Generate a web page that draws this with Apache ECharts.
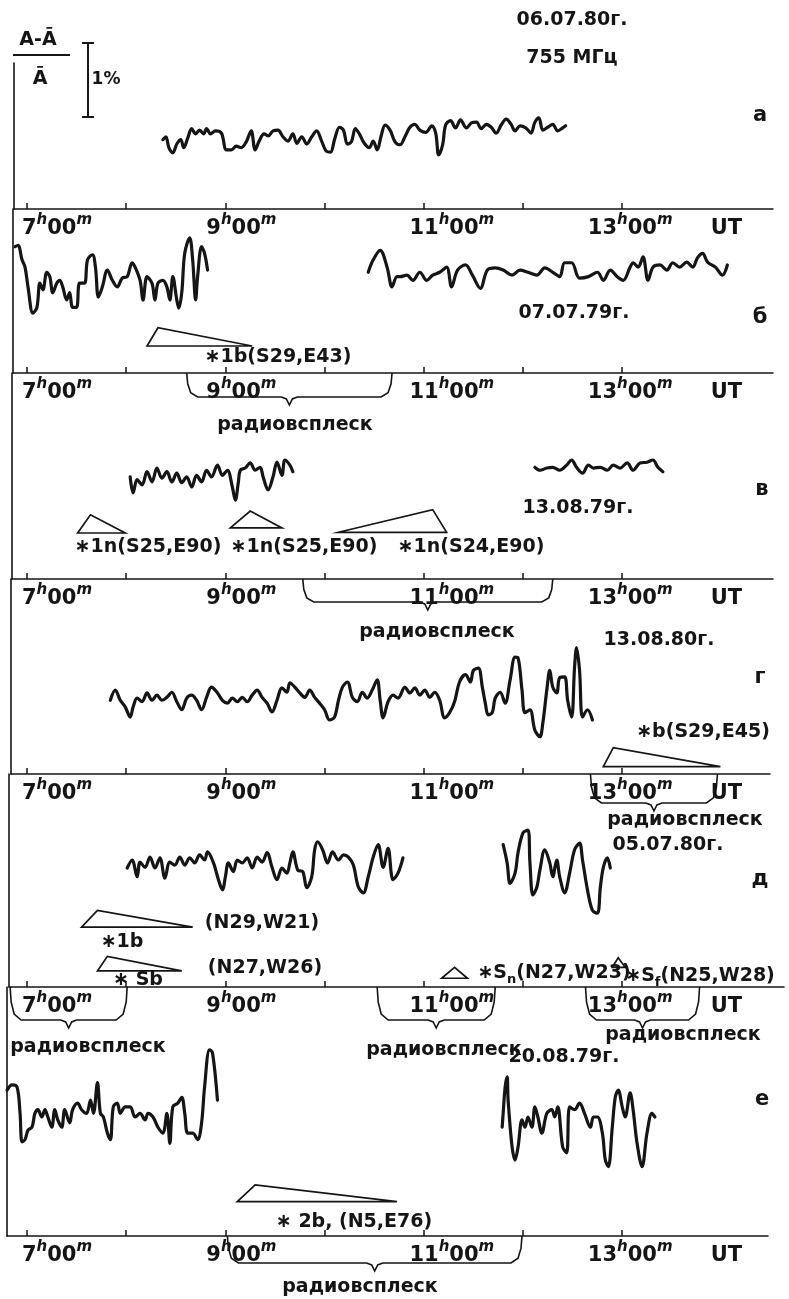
<!DOCTYPE html>
<html><head><meta charset="utf-8">
<script src="https://cdn.jsdelivr.net/npm/echarts@6/dist/echarts.min.js"></script>
<style>html,body{margin:0;padding:0;background:#fff}#c{width:789px;height:1299px}</style>
</head><body><div id="c"></div>
<script>
// ---------------- DATA (time in hours UT, value in % of (A-Ā)/Ā) ----------------
const hourTicks = [7, 8, 9, 10, 11, 12, 13];
const hourLabels = [7, 9, 11, 13, 14];   // 14 is shown as "UT"

const curveA = [[8.37,0.95],[8.40,0.99],[8.43,0.84],[8.47,0.77],[8.51,0.89],[8.55,0.95],[8.58,0.84],[8.62,0.97],[8.66,1.10],[8.70,1.03],[8.74,1.08],[8.78,1.03],[8.81,1.10],[8.85,1.03],[8.90,1.07],[8.96,1.04],[9.01,0.81],[9.06,0.81],[9.11,0.86],[9.16,0.84],[9.21,0.92],[9.26,1.07],[9.30,0.81],[9.34,0.93],[9.39,1.03],[9.43,1.00],[9.48,1.07],[9.53,1.08],[9.58,0.99],[9.63,0.93],[9.68,1.03],[9.72,0.90],[9.77,0.99],[9.82,0.89],[9.87,0.99],[9.92,1.07],[9.97,0.93],[10.02,0.79],[10.06,0.78],[10.10,0.95],[10.15,1.12],[10.19,1.08],[10.23,0.89],[10.27,0.92],[10.31,1.10],[10.35,1.03],[10.40,0.90],[10.45,0.84],[10.49,0.93],[10.53,0.81],[10.57,1.00],[10.61,1.15],[10.66,1.08],[10.71,0.92],[10.76,0.88],[10.81,0.99],[10.86,1.12],[10.91,1.16],[10.96,1.08],[11.02,1.05],[11.08,1.14],[11.12,1.04],[11.15,0.74],[11.19,0.88],[11.22,1.15],[11.27,1.21],[11.32,1.11],[11.37,1.22],[11.43,1.11],[11.48,1.18],[11.53,1.19],[11.58,1.10],[11.63,1.16],[11.68,1.12],[11.73,1.04],[11.78,1.15],[11.83,1.23],[11.88,1.16],[11.92,1.07],[11.97,1.14],[12.03,1.11],[12.08,1.04],[12.12,1.19],[12.16,1.25],[12.20,1.08],[12.25,1.12],[12.30,1.16],[12.35,1.07],[12.40,1.11],[12.43,1.14]];

const curveB1 = [[6.88,1.73],[6.91,1.75],[6.95,1.55],[6.98,1.45],[7.01,1.18],[7.06,0.82],[7.10,0.90],[7.13,1.23],[7.16,1.14],[7.20,1.38],[7.23,1.32],[7.26,1.10],[7.30,1.23],[7.33,1.27],[7.36,1.18],[7.40,1.00],[7.43,1.10],[7.46,0.90],[7.50,0.90],[7.53,1.23],[7.58,1.23],[7.61,1.55],[7.66,1.62],[7.69,1.45],[7.72,1.04],[7.76,1.18],[7.81,1.41],[7.86,1.27],[7.91,1.18],[7.96,1.30],[8.01,1.32],[8.06,1.51],[8.09,1.45],[8.14,1.27],[8.17,1.00],[8.21,1.32],[8.26,1.23],[8.29,1.00],[8.32,1.23],[8.37,1.27],[8.41,1.18],[8.44,1.00],[8.47,1.32],[8.51,1.00],[8.53,0.89],[8.56,1.10],[8.59,1.64],[8.64,1.85],[8.67,1.55],[8.70,1.00],[8.72,1.32],[8.76,1.73],[8.79,1.64],[8.82,1.41]];
const curveB2 = [[10.44,1.38],[10.49,1.55],[10.56,1.68],[10.63,1.45],[10.68,1.18],[10.73,1.32],[10.76,1.32],[10.83,1.34],[10.89,1.27],[10.96,1.38],[11.03,1.27],[11.09,1.34],[11.16,1.38],[11.23,1.45],[11.28,1.18],[11.34,1.41],[11.42,1.48],[11.49,1.34],[11.57,1.16],[11.64,1.41],[11.72,1.44],[11.80,1.41],[11.89,1.34],[11.97,1.41],[12.05,1.38],[12.14,1.34],[12.22,1.44],[12.30,1.38],[12.37,1.32],[12.42,1.51],[12.49,1.51],[12.57,1.30],[12.66,1.32],[12.75,1.38],[12.81,1.27],[12.88,1.41],[12.95,1.32],[13.01,1.27],[13.08,1.45],[13.11,1.51],[13.16,1.45],[13.21,1.59],[13.26,1.27],[13.31,1.45],[13.38,1.48],[13.45,1.41],[13.51,1.51],[13.58,1.45],[13.65,1.52],[13.71,1.45],[13.76,1.58],[13.81,1.64],[13.86,1.52],[13.94,1.45],[14.01,1.34],[14.06,1.48]];

const curveV1 = [[8.04,1.40],[8.07,1.18],[8.11,1.36],[8.16,1.29],[8.21,1.47],[8.26,1.33],[8.31,1.52],[8.36,1.38],[8.41,1.47],[8.46,1.33],[8.51,1.45],[8.56,1.32],[8.61,1.40],[8.66,1.26],[8.71,1.42],[8.76,1.33],[8.81,1.49],[8.86,1.40],[8.92,1.56],[8.97,1.42],[9.02,1.49],[9.07,1.26],[9.10,1.08],[9.13,1.32],[9.15,1.49],[9.20,1.52],[9.25,1.59],[9.30,1.49],[9.35,1.53],[9.38,1.40],[9.43,1.22],[9.48,1.40],[9.52,1.60],[9.57,1.42],[9.60,1.63],[9.65,1.56],[9.68,1.47]];
const curveV2 = [[12.12,1.53],[12.17,1.49],[12.24,1.52],[12.30,1.53],[12.37,1.49],[12.44,1.56],[12.49,1.63],[12.54,1.53],[12.60,1.45],[12.66,1.56],[12.71,1.52],[12.78,1.53],[12.85,1.49],[12.91,1.56],[12.98,1.52],[13.05,1.59],[13.11,1.49],[13.18,1.59],[13.25,1.60],[13.31,1.63],[13.36,1.53],[13.41,1.47]];

const curveG = [[7.84,1.01],[7.89,1.15],[7.94,1.01],[7.99,0.92],[8.04,0.78],[8.07,0.92],[8.11,1.04],[8.16,0.99],[8.21,1.11],[8.26,1.01],[8.31,1.08],[8.36,1.01],[8.41,1.05],[8.46,1.12],[8.51,0.99],[8.56,0.88],[8.61,1.04],[8.66,1.08],[8.71,1.01],[8.76,0.88],[8.81,1.05],[8.86,1.19],[8.92,1.11],[8.97,1.01],[9.02,0.97],[9.07,1.04],[9.12,0.99],[9.17,1.05],[9.22,0.99],[9.27,1.08],[9.32,1.15],[9.37,1.05],[9.42,0.97],[9.47,0.85],[9.52,1.01],[9.57,1.18],[9.62,1.12],[9.65,1.25],[9.70,1.19],[9.75,1.11],[9.80,1.05],[9.85,1.15],[9.90,1.05],[9.95,0.97],[10.00,0.88],[10.05,0.74],[10.10,0.78],[10.14,1.01],[10.18,1.19],[10.23,1.26],[10.28,1.05],[10.33,0.99],[10.38,1.12],[10.43,1.04],[10.48,1.15],[10.53,1.29],[10.56,1.01],[10.59,0.77],[10.64,0.99],[10.69,1.08],[10.74,1.04],[10.81,1.19],[10.86,1.11],[10.91,1.18],[10.96,1.08],[11.01,1.15],[11.06,1.05],[11.11,1.12],[11.16,1.01],[11.21,0.77],[11.26,0.84],[11.31,0.99],[11.36,1.26],[11.42,1.36],[11.47,1.26],[11.50,1.42],[11.55,1.45],[11.59,1.19],[11.62,0.97],[11.65,0.81],[11.69,0.84],[11.72,1.04],[11.77,1.12],[11.82,0.97],[11.87,1.29],[11.92,1.60],[11.95,1.59],[11.99,1.15],[12.02,0.84],[12.07,0.88],[12.12,0.60],[12.17,0.51],[12.20,0.70],[12.24,1.15],[12.27,1.42],[12.30,1.19],[12.34,1.11],[12.37,1.32],[12.42,1.33],[12.45,1.01],[12.49,0.78],[12.52,1.47],[12.54,1.73],[12.57,1.42],[12.60,0.78],[12.65,0.88],[12.70,0.74]];

const curveD1 = [[8.01,1.63],[8.06,1.74],[8.11,1.51],[8.14,1.71],[8.19,1.64],[8.24,1.78],[8.29,1.63],[8.34,1.77],[8.39,1.49],[8.44,1.71],[8.49,1.67],[8.54,1.78],[8.59,1.67],[8.64,1.77],[8.69,1.70],[8.74,1.81],[8.79,1.74],[8.82,1.85],[8.88,1.70],[8.93,1.47],[8.97,1.33],[9.00,1.51],[9.03,1.70],[9.08,1.58],[9.12,1.74],[9.17,1.70],[9.22,1.77],[9.27,1.63],[9.32,1.78],[9.37,1.71],[9.42,1.84],[9.47,1.64],[9.52,1.47],[9.57,1.63],[9.62,1.56],[9.65,1.70],[9.68,1.85],[9.73,1.60],[9.78,1.58],[9.82,1.36],[9.87,1.51],[9.90,1.88],[9.93,1.99],[9.98,1.88],[10.03,1.70],[10.08,1.85],[10.14,1.74],[10.19,1.81],[10.24,1.78],[10.29,1.67],[10.34,1.37],[10.39,1.29],[10.44,1.51],[10.49,1.78],[10.54,1.95],[10.59,1.64],[10.64,1.90],[10.69,1.47],[10.74,1.56],[10.79,1.77]];
const curveD2 = [[11.80,1.95],[11.84,1.70],[11.87,1.42],[11.92,1.56],[11.95,1.84],[12.00,2.11],[12.05,2.15],[12.07,1.70],[12.10,1.26],[12.14,1.37],[12.17,1.60],[12.22,1.88],[12.27,1.70],[12.30,1.51],[12.34,1.74],[12.37,1.51],[12.42,1.29],[12.47,1.56],[12.52,1.88],[12.57,1.97],[12.60,1.74],[12.65,1.33],[12.70,1.05],[12.75,1.01],[12.78,1.37],[12.81,1.64],[12.85,1.77],[12.88,1.63]];

const curveE1 = [[6.80,2.00],[6.85,2.07],[6.90,2.04],[6.93,1.68],[6.95,1.29],[6.98,1.32],[7.01,1.45],[7.05,1.49],[7.08,1.68],[7.11,1.73],[7.15,1.63],[7.18,1.73],[7.21,1.63],[7.25,1.49],[7.28,1.73],[7.31,1.59],[7.35,1.49],[7.38,1.73],[7.43,1.55],[7.46,1.73],[7.51,1.82],[7.55,1.73],[7.60,1.68],[7.64,1.86],[7.67,1.68],[7.71,2.10],[7.74,1.68],[7.77,1.63],[7.81,1.41],[7.84,1.32],[7.87,1.77],[7.91,1.82],[7.94,1.68],[7.99,1.77],[8.04,1.77],[8.09,1.63],[8.14,1.68],[8.19,1.59],[8.22,1.68],[8.27,1.63],[8.32,1.49],[8.37,1.41],[8.41,1.68],[8.44,1.27],[8.47,1.77],[8.52,1.82],[8.56,1.90],[8.59,1.68],[8.62,1.41],[8.67,1.41],[8.72,1.32],[8.76,1.55],[8.79,2.04],[8.84,2.55],[8.87,2.51],[8.92,1.86]];
const curveE2 = [[11.79,1.49],[11.80,1.68],[11.82,2.04],[11.84,2.18],[11.85,1.86],[11.89,1.22],[11.92,1.04],[11.95,1.22],[11.99,1.59],[12.02,1.49],[12.05,1.63],[12.09,1.49],[12.12,1.77],[12.15,1.63],[12.19,1.41],[12.24,1.68],[12.29,1.73],[12.32,1.63],[12.35,1.77],[12.40,1.22],[12.44,1.14],[12.47,1.77],[12.52,1.73],[12.57,1.82],[12.62,1.68],[12.68,1.49],[12.71,1.63],[12.75,1.63],[12.80,1.41],[12.83,1.04],[12.86,0.95],[12.90,1.49],[12.93,1.90],[12.96,2.00],[13.00,1.77],[13.03,1.63],[13.08,1.96],[13.11,1.73],[13.15,1.27],[13.20,0.95],[13.25,1.41],[13.30,1.68],[13.33,1.63]];

// flares: [start, max, end, base level %, apex level %]
const flaresB = [[8.21, 8.32, 9.27, 0.37, 0.62]];
const flaresV = [[7.51, 7.64, 7.99, 0.63, 0.88], [9.05, 9.25, 9.57, 0.70, 0.93], [10.14, 11.09, 11.23, 0.64, 0.95]];
const flaresG = [[12.81, 12.91, 13.99, 0.10, 0.36]];
const flaresD = [[7.55, 7.71, 8.67, 0.82, 1.05], [7.71, 7.81, 8.56, 0.22, 0.42], [11.18, 11.31, 11.44, 0.12, 0.27], [12.90, 12.96, 13.03, 0.27, 0.40]];
const flaresE = [[9.12, 9.30, 10.73, 0.47, 0.70]];

// radio bursts: [start, end] in hours
const burstsB = [[8.61, 10.68]];
const burstsV = [[9.78, 12.30]];
const burstsG = [[12.68, 13.96]];
const burstsD = [[6.83, 8.01], [10.53, 11.72], [12.63, 13.78]];
const burstsE = [[9.02, 11.99]];

// ---------------- LAYOUT (pixels) ----------------
const PX_PER_PCT = 73, X7 = 27, PX_PER_H = 99.2;
const panels = [
  {top: 63,  axisY: 209,  left: 14, right: 773, curves: [curveA],            flares: [],       bursts: [],       braceDepth: 24},
  {top: 209, axisY: 373,  left: 13, right: 773, curves: [curveB1, curveB2],  flares: flaresB,  bursts: burstsB,  braceDepth: 24},
  {top: 373, axisY: 579,  left: 12, right: 773, curves: [curveV1, curveV2],  flares: flaresV,  bursts: burstsV,  braceDepth: 23},
  {top: 579, axisY: 774,  left: 11, right: 770, curves: [curveG],            flares: flaresG,  bursts: burstsG,  braceDepth: 29},
  {top: 774, axisY: 987,  left: 9,  right: 784, curves: [curveD1, curveD2],  flares: flaresD,  bursts: burstsD,  braceDepth: 33},
  {top: 987, axisY: 1236, left: 7,  right: 768, curves: [curveE1, curveE2],  flares: flaresE,  bursts: burstsE,  braceDepth: 27}
];
const labelShift = {7: 30, 9: 16, 11: 28, 13: 8, 14: 5};
const INK = '#151515';
const FONT = '"DejaVu Sans"';

const rich = {
  n: {fontFamily: FONT, fontWeight: 'bold', fontSize: 21, lineHeight: 26, verticalAlign: 'bottom', color: INK},
  s: {fontFamily: FONT, fontWeight: 'bold', fontStyle: 'italic', fontSize: 15, lineHeight: 26, verticalAlign: 'top', color: INK}
};
Object.keys(labelShift).forEach(h => { rich['p' + h] = {width: labelShift[h] * 2, fontSize: 10}; });

function hourLabel(v) {
  const h = Math.round(v);
  const pad = '{p' + h + '| }';
  if (h === 14) return pad + '{n|UT}';
  return pad + '{n|' + h + '}{s|h}{n|00}{s|m}';
}

const grids = [], xAxes = [], yAxes = [], series = [];
panels.forEach((p, i) => {
  grids.push({left: p.left, width: p.right - p.left, top: p.top, height: p.axisY - p.top,
    containLabel: false, outerBoundsMode: 'none'});
  xAxes.push({
    gridIndex: i, type: 'value',
    min: 7 - (X7 - p.left) / PX_PER_H, max: 7 + (p.right - X7) / PX_PER_H,
    axisLine: {show: true, lineStyle: {color: INK, width: 1.6}},
    axisTick: {show: true, inside: true, length: 6, customValues: hourTicks, lineStyle: {color: INK, width: 1.5}},
    axisLabel: {show: true, customValues: hourLabels, formatter: hourLabel, rich: rich, margin: 4, hideOverlap: false},
    splitLine: {show: false}
  });
  yAxes.push({
    gridIndex: i, type: 'value', min: 0, max: (p.axisY - p.top) / PX_PER_PCT,
    axisLine: {show: true, onZero: false, lineStyle: {color: INK, width: 1.6}},
    axisTick: {show: false}, axisLabel: {show: false}, splitLine: {show: false}
  });
  p.curves.forEach(c => series.push({
    type: 'line', xAxisIndex: i, yAxisIndex: i, data: c, smooth: 0.35, symbol: 'none',
    lineStyle: {color: INK, width: 3.2, cap: 'round', join: 'round'}, silent: true
  }));
  if (p.flares.length) series.push({
    type: 'custom', xAxisIndex: i, yAxisIndex: i, data: p.flares, clip: false, silent: true,
    encode: {x: [0, 1, 2], y: [3, 4]},
    renderItem: (params, api) => {
      const s = api.coord([api.value(0), api.value(3)]);
      const m = api.coord([api.value(1), api.value(4)]);
      const e = api.coord([api.value(2), api.value(3)]);
      return {type: 'polygon', shape: {points: [s, m, e]}, style: {fill: 'none', stroke: INK, lineWidth: 1.7}};
    }
  });
  if (p.bursts.length) series.push({
    type: 'custom', xAxisIndex: i, yAxisIndex: i, data: p.bursts, clip: false, silent: true,
    encode: {x: [0, 1]},
    renderItem: (params, api) => {
      const a = api.coord([api.value(0), 0]);
      const b = api.coord([api.value(1), 0]);
      const d = p.braceDepth, y0 = a[1], y1 = y0 + d, xm = (a[0] + b[0]) / 2;
      const pts = [[a[0], y0], [a[0] + 1, y0 + d * 0.45], [a[0] + 4, y0 + d * 0.82], [a[0] + 11, y1],
        [xm - 8, y1], [xm - 3, y1 + 2], [xm, y1 + 8], [xm + 3, y1 + 2], [xm + 8, y1],
        [b[0] - 11, y1], [b[0] - 4, y0 + d * 0.82], [b[0] - 1, y0 + d * 0.45], [b[0], y0]];
      return {type: 'polyline', shape: {points: pts}, style: {fill: null, stroke: INK, lineWidth: 1.6}};
    }
  });
});

// ---------------- annotation texts ----------------
function T(text, x, y, size) {
  return {type: 'text', x: x, y: y, silent: true,
    style: {text: text, fill: INK, align: 'center', verticalAlign: 'middle',
      font: 'bold ' + (size || 19) + 'px ' + FONT,
      rich: {sub: {fontFamily: FONT, fontWeight: 'bold', fontSize: 13, verticalAlign: 'bottom', lineHeight: 26, fill: INK},
             b: {fontFamily: FONT, fontWeight: 'bold', fontSize: 19, lineHeight: 26, verticalAlign: 'middle', fill: INK}}}};
}
function L(x1, y1, x2, y2, w) {
  return {type: 'line', silent: true, shape: {x1, y1, x2, y2}, style: {stroke: INK, lineWidth: w || 1.6}};
}
const graphics = [
  // scale bar
  T('A-Ā', 38, 40, 19), L(13, 55, 70, 55, 1.8), T('Ā', 40, 79, 19),
  L(88, 43, 88, 117, 2), L(82, 43, 94, 43, 2), L(82, 117, 94, 117, 2), T('1%', 106, 80, 17),
  // panel a
  T('06.07.80г.', 572, 20), T('755 МГц', 572, 58), T('а', 760, 116, 21),
  // panel б
  T('07.07.79г.', 574, 313), T('б', 760, 318, 21), T('∗1b(S29,E43)', 278, 357), T('радиовсплеск', 295, 425),
  // panel в
  T('13.08.79г.', 578, 508), T('в', 762, 490, 21),
  T('∗1n(S25,E90)', 148, 547), T('∗1n(S25,E90)', 304, 547), T('∗1n(S24,E90)', 471, 547),
  T('радиовсплеск', 437, 632),
  // panel г
  T('13.08.80г.', 659, 640), T('г', 760, 678, 21), T('∗b(S29,E45)', 703, 732), T('радиовсплеск', 685, 820),
  // panel д
  T('05.07.80г.', 668, 845), T('д', 760, 880, 21),
  T('(N29,W21)', 262, 923), T('∗1b', 122, 942), T('(N27,W26)', 265, 968), T('∗ Sb', 138, 980),
  T('{b|∗S}{sub|n}{b|(N27,W23)}', 554, 973), T('{b|∗S}{sub|f}{b|(N25,W28)}', 700, 976),
  T('радиовсплеск', 88, 1047), T('радиовсплеск', 444, 1050), T('радиовсплеск', 683, 1035),
  // panel е
  T('20.08.79г.', 564, 1057), T('е', 762, 1100, 21), T('∗ 2b, (N5,E76)', 354, 1222), T('радиовсплеск', 360, 1287)
];

const chart = echarts.init(document.getElementById('c'), null, {renderer: 'canvas'});
chart.setOption({
  animation: false, backgroundColor: '#ffffff',
  grid: grids, xAxis: xAxes, yAxis: yAxes, series: series, graphic: graphics
});
</script></body></html>
